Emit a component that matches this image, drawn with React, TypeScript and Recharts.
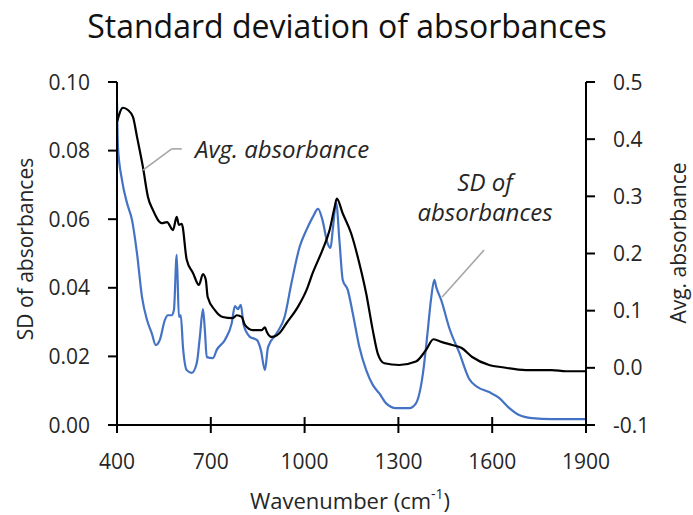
import React from 'react';
import { ComposedChart, Line, XAxis, YAxis, ReferenceLine } from 'recharts';

// Average absorbance spectrum (right axis)
const avgWavenumber = [400, 419, 435, 451, 464, 483, 499, 515, 543, 560, 579, 591, 598, 607, 623, 643, 662, 675, 684, 690, 713, 738, 770, 783, 799, 809, 834, 863, 873, 879, 894, 911, 920, 942, 980, 1006, 1026, 1057, 1080, 1096, 1103, 1122, 1149, 1175, 1197, 1218, 1234, 1255, 1303, 1356, 1388, 1412, 1440, 1472, 1501, 1536, 1590, 1632, 1708, 1791, 1836, 1900];
const avgValue = [0.430, 0.455, 0.451, 0.439, 0.404, 0.351, 0.299, 0.276, 0.253, 0.255, 0.241, 0.264, 0.250, 0.252, 0.189, 0.166, 0.145, 0.164, 0.154, 0.124, 0.101, 0.089, 0.087, 0.092, 0.089, 0.075, 0.066, 0.066, 0.071, 0.063, 0.054, 0.057, 0.061, 0.078, 0.108, 0.136, 0.166, 0.206, 0.241, 0.281, 0.296, 0.270, 0.235, 0.183, 0.130, 0.066, 0.025, 0.008, 0.005, 0.011, 0.031, 0.050, 0.045, 0.040, 0.035, 0.019, 0.005, 0.001, -0.004, -0.004, -0.006, -0.006];

// Standard deviation of absorbances (left axis)
const sdWavenumber = [400, 403, 416, 432, 448, 464, 480, 496, 511, 524, 537, 553, 563, 575, 582, 591, 598, 604, 611, 623, 639, 655, 665, 675, 681, 687, 707, 719, 745, 767, 777, 787, 796, 805, 825, 847, 860, 873, 883, 911, 936, 958, 984, 1006, 1026, 1043, 1057, 1073, 1083, 1090, 1101, 1112, 1122, 1138, 1154, 1175, 1197, 1218, 1239, 1261, 1292, 1335, 1356, 1377, 1393, 1404, 1415, 1421, 1437, 1463, 1495, 1526, 1552, 1590, 1622, 1654, 1686, 1727, 1791, 1900];
const sdValue = [0.094, 0.081, 0.0714, 0.0647, 0.0598, 0.050, 0.0373, 0.0306, 0.0268, 0.0233, 0.0248, 0.0306, 0.032, 0.032, 0.0335, 0.0496, 0.0315, 0.032, 0.0227, 0.016, 0.0152, 0.018, 0.0257, 0.0338, 0.0277, 0.0198, 0.0195, 0.0219, 0.0248, 0.0297, 0.0347, 0.0338, 0.035, 0.0292, 0.0257, 0.0248, 0.0219, 0.016, 0.0227, 0.0268, 0.0315, 0.0414, 0.0519, 0.0569, 0.0606, 0.063, 0.0598, 0.0531, 0.0516, 0.0569, 0.0647, 0.053, 0.0423, 0.0394, 0.0326, 0.0228, 0.016, 0.0117, 0.0092, 0.0063, 0.0049, 0.0049, 0.0063, 0.0141, 0.0267, 0.0364, 0.0423, 0.0402, 0.0364, 0.0282, 0.021, 0.0135, 0.0111, 0.0096, 0.0079, 0.005, 0.0029, 0.002, 0.0017, 0.0017];

const xTicks = [400, 700, 1000, 1300, 1600, 1900];
const sdTicks = [0, 0.02, 0.04, 0.06, 0.08, 0.1];
const avgTicks = [-0.1, 0, 0.1, 0.2, 0.3, 0.4, 0.5];

const avgData = avgWavenumber.map((w, i) => ({ w, avg: avgValue[i] }));
const sdData = sdWavenumber.map((w, i) => ({ w, sd: sdValue[i] }));

const FONT = '"Open Sans", "Noto Sans", sans-serif';
const TEXT = '#262626';
const AXIS = '#000000';
const BLUE = '#4472C4';
const LEADER = '#A6A6A6';

const XTick = (props: any) => {
  const { x, y, payload } = props;
  return (
    <g>
      <line x1={x} x2={x} y1={y - 8} y2={y + 8} stroke={AXIS} strokeWidth={2} />
      <text x={x} y={y + 44} textAnchor="middle" fontSize={21} fill={TEXT} fontFamily={FONT}>
        {payload.value}
      </text>
    </g>
  );
};

const LeftTick = (props: any) => {
  const { x, y, payload } = props;
  return (
    <g>
      <line x1={x - 9} x2={x} y1={y} y2={y} stroke={AXIS} strokeWidth={2} />
      <text x={x - 27} y={y} dy="0.36em" textAnchor="end" fontSize={21} fill={TEXT} fontFamily={FONT}>
        {Number(payload.value).toFixed(2)}
      </text>
    </g>
  );
};

const RightTick = (props: any) => {
  const { x, y, payload } = props;
  return (
    <g>
      <line x1={x} x2={x + 9} y1={y} y2={y} stroke={AXIS} strokeWidth={2} />
      <text x={x + 27} y={y} dy="0.36em" textAnchor="start" fontSize={21} fill={TEXT} fontFamily={FONT}>
        {Number(payload.value).toFixed(1)}
      </text>
    </g>
  );
};

export default function App() {
  return (
    <div style={{ position: 'absolute', left: 0, top: 0, background: '#fff' }}>
      <ComposedChart width={693} height={515} margin={{ top: 82, right: 0, bottom: 0, left: 0 }}>
        <XAxis
          type="number"
          dataKey="w"
          domain={[400, 1900]}
          ticks={xTicks}
          allowDataOverflow
          height={90}
          tickSize={0}
          tickMargin={0}
          tickLine={false}
          axisLine={{ stroke: AXIS, strokeWidth: 2 }}
          tick={<XTick />}
          interval={0}
        />
        <YAxis
          yAxisId="sd"
          orientation="left"
          domain={[0, 0.1]}
          ticks={sdTicks}
          width={117}
          tickSize={0}
          tickMargin={0}
          tickLine={false}
          axisLine={{ stroke: AXIS, strokeWidth: 2 }}
          tick={<LeftTick />}
          interval={0}
          allowDataOverflow
        />
        <YAxis
          yAxisId="avg"
          orientation="right"
          domain={[-0.1, 0.5]}
          ticks={avgTicks}
          width={107}
          tickSize={0}
          tickMargin={0}
          tickLine={false}
          axisLine={{ stroke: AXIS, strokeWidth: 2 }}
          tick={<RightTick />}
          interval={0}
          allowDataOverflow
        />
        <Line
          yAxisId="sd"
          data={sdData}
          dataKey="sd"
          type="monotone"
          stroke={BLUE}
          strokeWidth={2.2}
          dot={false}
          isAnimationActive={false}
        />
        <Line
          yAxisId="avg"
          data={avgData}
          dataKey="avg"
          type="monotone"
          stroke="#000000"
          strokeWidth={2.2}
          dot={false}
          isAnimationActive={false}
        />
        {/* leader lines for the series callouts */}
        <ReferenceLine yAxisId="sd" segment={[{ x: 483, y: 0.0743 }, { x: 575, y: 0.0805 }]} stroke={LEADER} strokeWidth={1.6} />
        <ReferenceLine yAxisId="sd" segment={[{ x: 575, y: 0.0805 }, { x: 607, y: 0.0805 }]} stroke={LEADER} strokeWidth={1.6} />
        <ReferenceLine yAxisId="sd" segment={[{ x: 1440, y: 0.0373 }, { x: 1574, y: 0.051 }]} stroke={LEADER} strokeWidth={1.6} />

        <text x={347} y={38} textAnchor="middle" fontSize={32} fill="#111" fontFamily={FONT}>
          Standard deviation of absorbances
        </text>
        <text x={195} y={158} fontSize={24} fontStyle="italic" fill={TEXT} fontFamily={FONT}>
          Avg. absorbance
        </text>
        <text x={485} y={191} textAnchor="middle" fontSize={24} fontStyle="italic" fill={TEXT} fontFamily={FONT}>
          SD of
        </text>
        <text x={485} y={221} textAnchor="middle" fontSize={24} fontStyle="italic" fill={TEXT} fontFamily={FONT}>
          absorbances
        </text>
        <text
          x={0}
          y={0}
          transform="translate(33 249) rotate(-90)"
          textAnchor="middle"
          fontSize={21}
          fill={TEXT}
          fontFamily={FONT}
        >
          SD of absorbances
        </text>
        <text
          x={0}
          y={0}
          transform="translate(686 243) rotate(-90)"
          textAnchor="middle"
          fontSize={21}
          fill={TEXT}
          fontFamily={FONT}
        >
          Avg. absorbance
        </text>
        <text x={350} y={509} textAnchor="middle" fontSize={22} fill={TEXT} fontFamily={FONT}>
          Wavenumber (cm
          <tspan fontSize={14} dy={-10}>-1</tspan>
          <tspan dy={10}>)</tspan>
        </text>
      </ComposedChart>
    </div>
  );
}
